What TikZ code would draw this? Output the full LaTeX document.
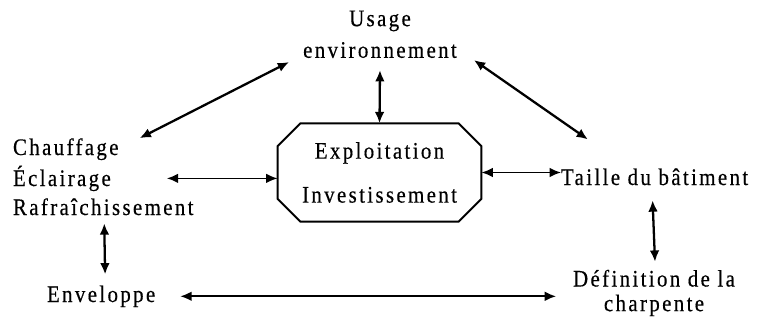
\documentclass[tikz,border=0pt]{standalone}
\usepackage{fontspec}
\setmainfont{Liberation Serif}[FakeStretch=0.88,LetterSpace=10,FakeBold=0.4]
\usetikzlibrary{arrows.meta,calc,shapes.misc}
\tikzset{
  every picture/.append style={font=\fontsize{13.5}{17}\selectfont},
  lbl/.style={inner sep=0pt, outer sep=0pt},
  hub/.style={chamfered rectangle, chamfered rectangle angle=45,
              chamfered rectangle xsep=10pt, draw, line width=1.1pt, align=center,
              inner sep=0pt, outer sep=0pt, minimum width=116pt, minimum height=56pt},
  link/.style={{Latex[length=6.5pt,width=5.5pt]}-{Latex[length=6.5pt,width=5.5pt]},
               line width=1.3pt},
  linkh/.style={link, line width=1pt},
}
\begin{document}
\begin{tikzpicture}[x=0.02cm,y=-0.02cm]
\useasboundingbox (0,0) rectangle (757,321);

% ---------------- centre ------------------------------------------------------
\node[hub] (exploit) at (379.5,172.5) {Exploitation\\[8pt]Investissement};

% ---------------- surrounding items -------------------------------------------
\node[lbl, align=center, anchor=south] (usage) at (380,58) {Usage\\[1pt]environnement};
\node[lbl, anchor=base west] (chauf) at (13,155) {Chauffage};
\node[lbl, anchor=base west] (eclair) at (13,186) {Éclairage};
\node[lbl, anchor=base west] (rafr) at (13,215) {Rafraîchissement};
\node[lbl, anchor=base west] (env) at (47,302) {Enveloppe};
\node[lbl, anchor=base west] (taille) at (561,185) {Taille du bâtiment};
\node[lbl, align=center] (def) at (654,293) {Définition de la\\[-3pt]charpente};

% ---------------- links -------------------------------------------------------
\draw[link] ([shift={(21,-11)}]chauf.east) -- ([shift={(-14,4)}]usage.south west);
\draw[link] ([shift={(0,12)}]usage.south) -- (exploit.north);
\draw[link] ([shift={(17,2)}]usage.south east) -- ([shift={(27,-29)}]taille.north west);
\draw[linkh] ([shift={(56,0)}]eclair.east) -- (eclair.east -| exploit.west);
\draw[linkh] (exploit.east) -- (exploit.east -| taille.west);
\draw[link] ([shift={(1,8)}]rafr.south) -- ([shift={(4,-11)}]env.north);
\draw[link] ([shift={(-2,15)}]taille.south) -- ([shift={(1,-8)}]def.north);
\draw[linkh] ([shift={(25,0)}]env.east) -- ($(env.east -| def.west)+(-17,0)$);

\end{tikzpicture}
\end{document}
